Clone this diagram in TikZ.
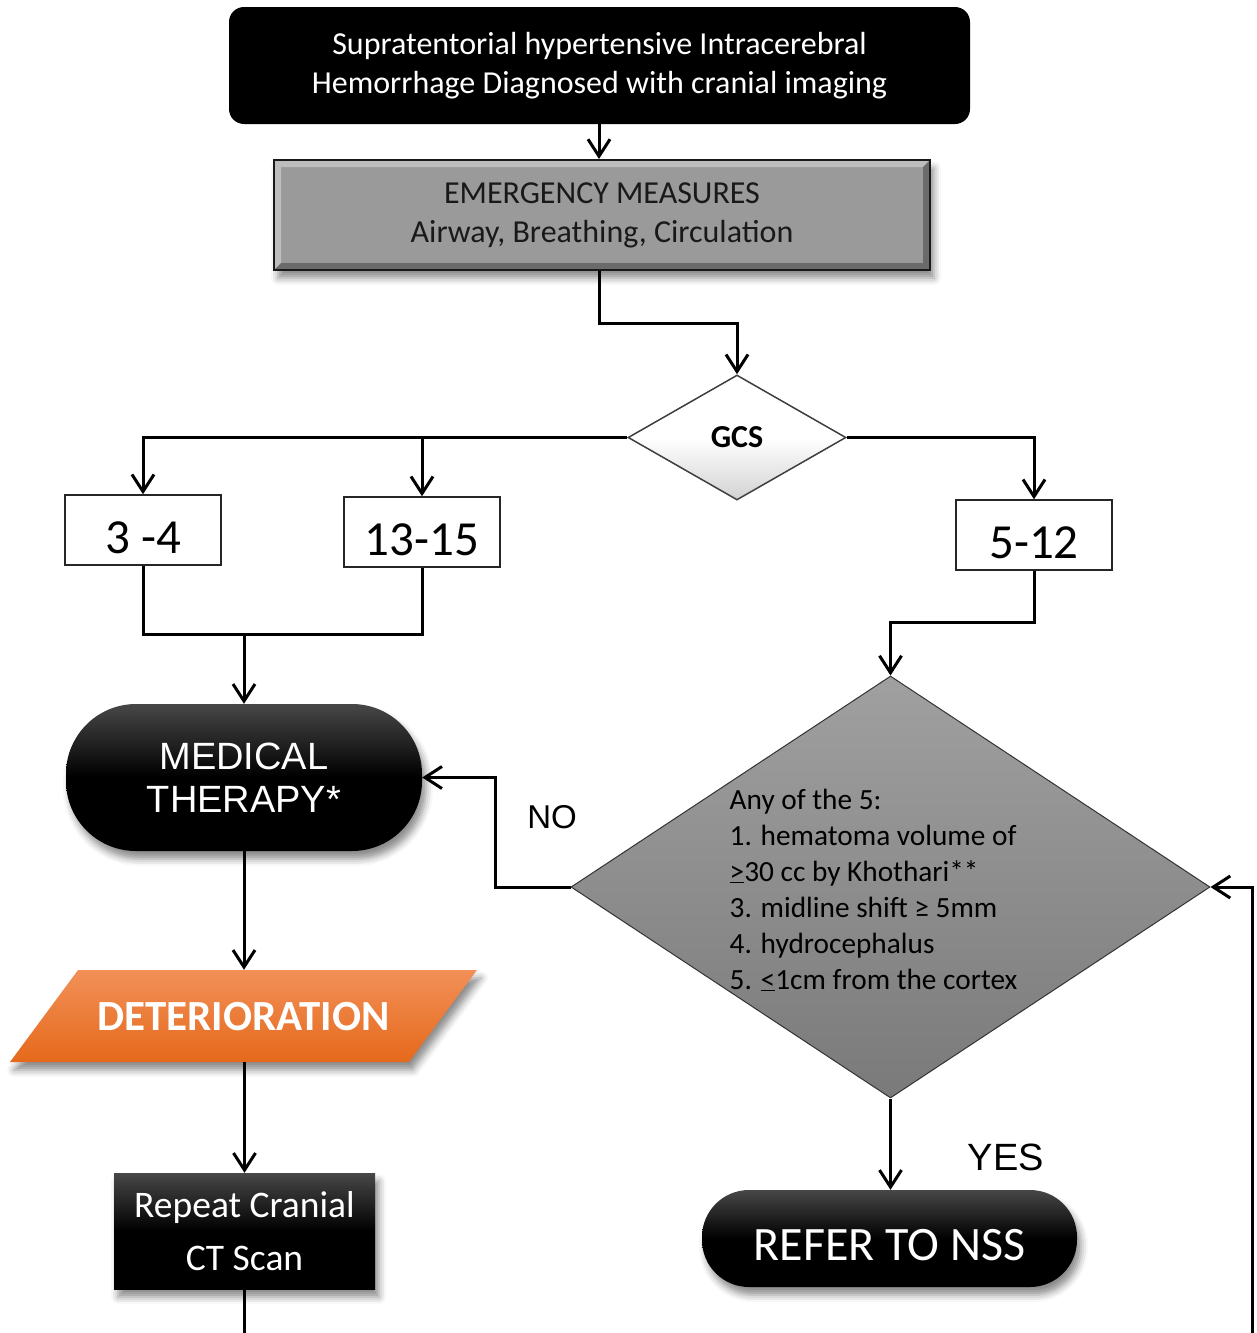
\documentclass[tikz,border=0pt]{standalone}
\usepackage{fontspec}
\setmainfont{Carlito}
\newfontfamily\arialfont{Liberation Sans}
\usetikzlibrary{shapes.geometric,shadows.blur,arrows.meta}
\definecolor{deterTop}{HTML}{F29058}
\definecolor{deterBot}{HTML}{E5691B}
\definecolor{critTop}{HTML}{A0A0A0}
\definecolor{critBot}{HTML}{7A7A7A}
\definecolor{emergGray}{HTML}{9A9A9A}
\begin{document}
\begin{tikzpicture}[x=1pt, y=-1pt, >={Straight Barb[length=17pt,width=22pt]},
    flowline/.style={->, line width=3pt},
    plainline/.style={line width=3pt},
    softshadow/.style={blur shadow={shadow xshift=4pt, shadow yshift=-8pt, shadow blur radius=7pt, shadow opacity=45}},
    startbox/.style={rectangle, rounded corners=15pt, fill=black, text=white, align=center,
      minimum width=741pt, minimum height=117pt, font=\fontsize{32}{39}\selectfont},
    emergbox/.style={rectangle, draw=black!90, line width=2pt, fill=emergGray, text=black!90, align=center,
      minimum width=656pt, minimum height=110pt, font=\fontsize{32}{39}\selectfont, softshadow,
      path picture={
        \fill[white, opacity=.35] (path picture bounding box.south west) -- (path picture bounding box.north west)
          -- (path picture bounding box.north east) -- ([shift={(-7pt,-7pt)}]path picture bounding box.north east)
          -- ([shift={(7pt,-7pt)}]path picture bounding box.north west) -- ([shift={(7pt,7pt)}]path picture bounding box.south west) -- cycle;
        \fill[black, opacity=.3] (path picture bounding box.south west) -- (path picture bounding box.south east)
          -- (path picture bounding box.north east) -- ([shift={(-7pt,-7pt)}]path picture bounding box.north east)
          -- ([shift={(-7pt,7pt)}]path picture bounding box.south east) -- ([shift={(7pt,7pt)}]path picture bounding box.south west) -- cycle;}},
    gcsnode/.style={diamond, draw=black!75, line width=1.5pt, top color=white, bottom color=gray!35, middle color=white,
      minimum width=218pt, minimum height=125pt, inner sep=0pt, font=\bfseries\fontsize{32}{32}\selectfont},
    rangebox/.style={rectangle, draw=black!85, line width=1.5pt, fill=white, text height=46pt, text depth=0pt,
      minimum width=156pt, minimum height=70pt, font=\fontsize{49}{49}\selectfont},
    pillbox/.style={rectangle, top color=black!72, bottom color=black, middle color=black, text=white, align=center, softshadow},
    deterbox/.style={trapezium, trapezium left angle=53.5, trapezium right angle=126.5, trapezium stretches body,
      text height=28pt, text depth=0pt, inner xsep=0pt, inner ysep=32pt,
      minimum width=467pt, minimum height=92pt, top color=deterTop, bottom color=deterBot,
      text=white, font=\bfseries\fontsize{43}{43}\selectfont, softshadow},
    critnode/.style={diamond, aspect=1.514, draw=black!80, line width=1pt, top color=critTop, bottom color=critBot,
      minimum width=639pt, minimum height=422pt, inner sep=0pt},
    crittext/.style={align=left, inner sep=0pt, font=\fontsize{29.3}{36}\selectfont},
    branchlabel/.style={font=\arialfont\fontsize{#1}{#1}\selectfont}]
    \useasboundingbox (0,0) rectangle (1257,1333);

    % Diagnosis and first aid
    \node[startbox] (ich) at (599.5,65.5) {Supratentorial hypertensive Intracerebral\\Hemorrhage Diagnosed with cranial imaging};
    \node[emergbox] (emerg) at (602,215) {EMERGENCY MEASURES\\Airway, Breathing, Circulation};

    % GCS split
    \node[gcsnode] (gcs) at (737,437.5) {GCS};
    \node[rangebox] (g34) at (143,530) {3 -4};
    \node[rangebox] (g1315) at (422,532) {13-15};
    \node[rangebox] (g512) at (1034,535) {5-12};

    % Left branch
    \node[pillbox, rounded corners=70pt, minimum width=356pt, minimum height=147pt,
      font=\arialfont\fontsize{38}{43}\selectfont] (medical) at (244,777.5) {MEDICAL\\THERAPY*};
    \node[deterbox] (deter) at (243.5,1016) {DETERIORATION};
    \node[pillbox, minimum width=261pt, minimum height=116pt, font=\fontsize{37.5}{53}\selectfont] (ctscan) at (244.5,1231) {Repeat Cranial\\CT Scan};
    \coordinate (ctend) at (244.5,1333);

    % Right branch
    \node[critnode] (crit) at (890.5,887) {};
    \node[crittext] (critlist) at (873.5,890) {Any of the 5:\\1. hematoma volume of\\\underline{>}30 cc by Khothari**\\3. midline shift ≥ 5mm\\4. hydrocephalus\\5. \underline{<}1cm from the cortex};
    \node[pillbox, rounded corners=47pt, minimum width=375pt, minimum height=97pt,
      text height=44pt, text depth=0pt, font=\fontsize{48}{48}\selectfont] (refer) at (889.5,1238.5) {REFER TO NSS};
    \coordinate (loopend) at (1252,1333);

    \node[branchlabel=33] (nolabel) at (552,817) {NO};
    \node[branchlabel=38] (yeslabel) at (1006,1157) {YES};

    % Connectors
    \draw[flowline] (ich.south -| 599,0) -- (emerg.north -| 599,0);
    \draw[flowline] (emerg.south -| 599,0) -- ++(0,52) -| (gcs.north);
    \draw[flowline] (gcs.west) -| (g34.north);
    \draw[flowline] (gcs.west -| g1315.north) -- (g1315.north);
    \draw[flowline] (gcs.east) -| (g512.north);
    \draw[plainline] (g34.south) -- ++(0,69) coordinate (join) -| (g1315.south);
    \draw[flowline] (join -| medical.north) -- (medical.north);
    \draw[flowline] (medical.south) -- (medical.south |- deter.north);
    \draw[flowline] (ctscan.north |- deter.south) -- (ctscan.north);
    \draw[plainline] (ctscan.south) -- (ctend);
    \draw[flowline] (g512.south) -- ++(0,52) -| (crit.north);
    \draw[flowline] (crit.west) -- ++(-75,0) |- (medical.east);
    \draw[flowline] (crit.south) -- (crit.south |- refer.north);
    \draw[flowline] (loopend) |- (crit.east);
  \end{tikzpicture}
\end{document}
